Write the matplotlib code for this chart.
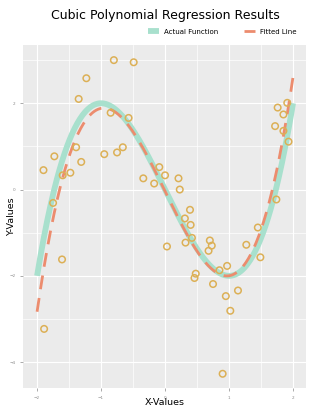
import numpy as np
import matplotlib
matplotlib.use("Agg")
import matplotlib.pyplot as plt
from matplotlib.ticker import MultipleLocator

x_obs = [-1.90, -1.73, -1.60, -1.48, -1.39, -1.31, -1.35, -1.23, -0.80, -0.49,
         -0.85, -0.57, -0.95, -0.75, -0.66, -0.34, -0.17, -0.09, 0.00, 0.21,
         0.23, -1.75, -1.61, -1.89, 0.03, 0.39, 0.31, 0.40, 0.32, 0.42,
         0.48, 0.46, 0.70, 0.73, 0.68, 0.85, 0.97, 0.75, 0.95, 1.14,
         1.02, 0.90, 1.27, 1.45, 1.49, 1.74, 1.76, 1.91, 1.85, 1.72,
         1.85, 1.93]
y_obs = [0.45, 0.77, 0.33, 0.39, 0.98, 0.64, 2.10, 2.58, 3.00, 2.95,
         1.78, 1.66, 0.82, 0.86, 0.98, 0.26, 0.14, 0.52, 0.33, 0.26,
         0.00, -0.31, -1.62, -3.23, -1.32, -0.47, -0.67, -0.82, -1.23, -1.12,
         -1.95, -2.05, -1.18, -1.30, -1.42, -1.87, -1.77, -2.19, -2.47, -2.34,
         -2.81, -4.27, -1.28, -0.88, -1.57, -0.23, 1.90, 2.01, 1.74, 1.47,
         1.36, 1.11]

# cubic coefficients (highest power first)
actual_coefs = [1.0, 0.0, -3.0, 0.0]
fitted_coefs = [1.10, -0.018, -3.04, -0.04]
x_range = (-2.0, 2.0)

x_line = np.linspace(*x_range, 300)

fig = plt.figure(figsize=(3.3, 4.13), dpi=100)
ax = fig.add_axes([0.0697, 0.0605, 0.857, 0.8305])
ax.set_facecolor("#ebebeb")
for s in ax.spines.values():
    s.set_visible(False)

ax.xaxis.set_major_locator(MultipleLocator(1))
ax.xaxis.set_minor_locator(MultipleLocator(0.5))
ax.yaxis.set_major_locator(MultipleLocator(2))
ax.yaxis.set_minor_locator(MultipleLocator(1))
ax.grid(which="major", color="white", linewidth=0.8)
ax.grid(which="minor", color="white", linewidth=0.5)
ax.set_axisbelow(True)

ax.plot(x_line, np.polyval(actual_coefs, x_line), color="#a8e0cd",
        linewidth=4.2, solid_capstyle="butt", label="Actual Function", zorder=2)
ax.plot(x_line, np.polyval(fitted_coefs, x_line), color="#ec8c6e",
        linewidth=2.0, dashes=(5, 3.2), label="Fitted Line", zorder=3)
ax.scatter(x_obs, y_obs, s=22, facecolors="none", edgecolors="#dcb056",
           linewidths=1.1, zorder=4)

ax.set_xlim(-2.22, 2.2)
ax.set_ylim(-4.6, 3.35)
ax.tick_params(which="major", labelsize=3, colors="#888888", length=2, width=0.5)
ax.tick_params(which="minor", length=0)
ax.set_xticks([-2, -1, 0, 1, 2])
ax.set_yticks([-4, -2, 0, 2])

ax.set_xlabel("X-Values", fontsize=6.8)
ax.set_ylabel("Y-Values", fontsize=6.8)
ax.xaxis.set_label_coords(0.5, -0.03)
ax.yaxis.set_label_coords(-0.025, 0.5)

fig.text(0.5, 0.962, "Cubic Polynomial Regression Results", fontsize=9,
         ha="center", va="center")
leg = ax.legend(loc="center right", bbox_to_anchor=(0.985, 1.04), ncol=2,
                fontsize=5, handlelength=1.6, handleheight=1.2, columnspacing=3.6,
                frameon=False, borderaxespad=0.3)

fig.savefig("out.png", dpi=100)
